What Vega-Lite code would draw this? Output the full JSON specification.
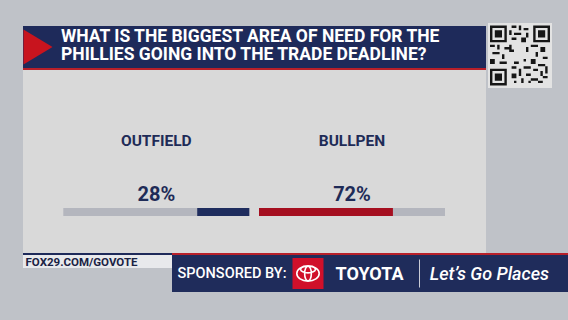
{
  "$schema": "https://vega.github.io/schema/vega-lite/v6.json",
  "padding": {"left": 23, "top": 23, "right": 0, "bottom": 28},
  "background": "#bfc2c8",
  "config": {
    "view": {"stroke": null},
    "concat": {"spacing": 0},
    "font": "Roboto",
    "text": {"font": "Roboto"},
    "title": {"font": "Roboto"}
  },
  "datasets": {
    "poll": [
      {"option": "OUTFIELD", "share": 0.28},
      {"option": "BULLPEN", "share": 0.72}
    ]
  },
  "data": {"name": "poll"},
  "spacing": 0,
  "vconcat": [
    {
      "spacing": 2,
      "hconcat": [
        {
          "spacing": 0,
          "resolve": {"scale": {"x": "independent", "color": "independent"}},
          "vconcat": [
            {"width": 463, "height": 3, "data": {"values": []}, "mark": "point", "encoding": {}},
            {
              "spacing": 0,
              "hconcat": [
                {
                  "width": 30, "height": 42,
                  "view": {"fill": "#1e2a5a"},
                  "data": {"values": [{}]},
                  "mark": {"type": "point", "shape": "M-0.83,-1L0.83,0L-0.83,1Z", "size": 1225, "filled": true, "color": "#c8141e", "opacity": 1, "strokeWidth": 0},
                  "encoding": {}
                },
                {
                  "width": 433, "height": 42,
                  "view": {"fill": "#1e2a5a"},
                  "data": {"values": []},
                  "title": {
                    "text": ["WHAT IS THE BIGGEST AREA OF NEED FOR THE", "PHILLIES GOING INTO THE TRADE DEADLINE?"],
                    "anchor": "start", "orient": "top", "offset": -37.7, "dx": 8,
                    "color": "#ffffff", "fontSize": 17.5, "fontWeight": "bold", "lineHeight": 18.3, "font": "Roboto"
                  },
                  "mark": "point",
                  "encoding": {}
                }
              ]
            },
            {"width": 463, "height": 2, "view": {"fill": "#b8202a"}, "data": {"values": []}, "mark": "point", "encoding": {}},
            {
              "spacing": 0,
              "resolve": {"scale": {"x": "independent", "color": "independent"}},
              "hconcat": [
                {
                  "spacing": 0,
                  "transform": [{"filter": "datum.option === 'OUTFIELD'"}],
                  "vconcat": [
                    {
                      "width": 231, "height": 138,
                      "view": {"fill": "#d9d9d9"},
                      "layer": [
                        {
                          "mark": {"type": "text", "fontSize": 15.5, "fontWeight": "bold", "color": "#1e2b57", "dy": 2.3},
                          "encoding": {
                            "x": {"datum": 0.5, "type": "quantitative", "scale": {"domain": [0, 1], "range": [226.3, 40.3]}, "axis": null},
                            "text": {"field": "option", "type": "nominal"}
                          }
                        },
                        {
                          "mark": {"type": "text", "fontSize": 20, "fontWeight": "bold", "color": "#1e2b57", "dy": 56},
                          "encoding": {
                            "x": {"datum": 0.5, "type": "quantitative", "scale": {"domain": [0, 1], "range": [226.3, 40.3]}, "axis": null},
                            "text": {"field": "share", "type": "quantitative", "format": ".0%"}
                          }
                        }
                      ]
                    },
                    {
                      "width": 231, "height": 8,
                      "view": {"fill": "#d9d9d9"},
                      "layer": [
                        {
                          "mark": {"type": "bar", "height": 8, "color": "#b4b6be"},
                          "encoding": {"x": {"datum": 1, "type": "quantitative", "scale": {"domain": [0, 1], "range": [226.3, 40.3]}, "axis": null}}
                        },
                        {
                          "mark": {"type": "bar", "height": 8},
                          "encoding": {
                            "x": {"field": "share", "type": "quantitative", "scale": {"domain": [0, 1], "range": [226.3, 40.3]}, "axis": null},
                            "color": {"field": "option", "type": "nominal", "scale": {"domain": ["OUTFIELD", "BULLPEN"], "range": ["#1f2d5e", "#a50f20"]}, "legend": null}
                          }
                        }
                      ]
                    },
                    {"width": 231, "height": 37, "view": {"fill": "#d9d9d9"}, "data": {"values": []}, "mark": "point", "encoding": {}}
                  ]
                },
                {
                  "spacing": 0,
                  "transform": [{"filter": "datum.option === 'BULLPEN'"}],
                  "vconcat": [
                    {
                      "width": 232, "height": 138,
                      "view": {"fill": "#d9d9d9"},
                      "layer": [
                        {
                          "mark": {"type": "text", "fontSize": 15.5, "fontWeight": "bold", "color": "#1e2b57", "dy": 2.3},
                          "encoding": {
                            "x": {"datum": 0.5, "type": "quantitative", "scale": {"domain": [0, 1], "range": [5, 191]}, "axis": null},
                            "text": {"field": "option", "type": "nominal"}
                          }
                        },
                        {
                          "mark": {"type": "text", "fontSize": 20, "fontWeight": "bold", "color": "#1e2b57", "dy": 56},
                          "encoding": {
                            "x": {"datum": 0.5, "type": "quantitative", "scale": {"domain": [0, 1], "range": [5, 191]}, "axis": null},
                            "text": {"field": "share", "type": "quantitative", "format": ".0%"}
                          }
                        }
                      ]
                    },
                    {
                      "width": 232, "height": 8,
                      "view": {"fill": "#d9d9d9"},
                      "layer": [
                        {
                          "mark": {"type": "bar", "height": 8, "color": "#b4b6be"},
                          "encoding": {"x": {"datum": 1, "type": "quantitative", "scale": {"domain": [0, 1], "range": [5, 191]}, "axis": null}}
                        },
                        {
                          "mark": {"type": "bar", "height": 8},
                          "encoding": {
                            "x": {"field": "share", "type": "quantitative", "scale": {"domain": [0, 1], "range": [5, 191]}, "axis": null},
                            "color": {"field": "option", "type": "nominal", "scale": {"domain": ["OUTFIELD", "BULLPEN"], "range": ["#1f2d5e", "#a50f20"]}, "legend": null}
                          }
                        }
                      ]
                    },
                    {"width": 232, "height": 37, "view": {"fill": "#d9d9d9"}, "data": {"values": []}, "mark": "point", "encoding": {}}
                  ]
                }
              ]
            }
          ]
        },
        {
          "width": 64, "height": 65,
          "view": {"fill": "#e3e3e3"},
          "data": {"values": [{}]},
          "mark": {
            "type": "point",
            "shape": "M-12.5,-12.5h7v7h-7Z M-11.5,-11.5v5h5v-5Z M-10.5,-10.5h3v3h-3Z M5.5,-12.5h7v7h-7Z M6.5,-11.5v5h5v-5Z M7.5,-10.5h3v3h-3Z M-12.5,5.5h7v7h-7Z M-11.5,6.5v5h5v-5Z M-10.5,7.5h3v3h-3Z M-3.5,-12.5h2v1h-2Z M-0.5,-12.5h1v2h-1Z M1.5,-11.5h2v1h-2Z M-4.5,-10.5h1v2h-1Z M-2.5,-9.5h3v1h-3Z M2.5,-9.5h1v2h-1Z M-3.5,-7.5h2v1h-2Z M0.5,-7.5h2v2h-2Z M-12.5,-4.5h2v1h-2Z M-9.5,-4.5h1v2h-1Z M-6.5,-3.5h2v1h-2Z M-11.5,-1.5h3v1h-3Z M-7.5,-0.5h1v2h-1Z M-12.5,1.5h2v2h-2Z M-8.5,2.5h3v1h-3Z M-4.5,-4.5h1v3h-1Z M4.5,-4.5h3v1h-3Z M8.5,-3.5h2v2h-2Z M6.5,-1.5h1v2h-1Z M9.5,0.5h2v1h-2Z M4.5,1.5h2v2h-2Z M7.5,3.5h3v1h-3Z M-3.5,4.5h2v1h-2Z M-0.5,5.5h1v3h-1Z M1.5,4.5h3v1h-3Z M5.5,5.5h2v1h-2Z M8.5,6.5h1v2h-1Z M10.5,4.5h1v3h-1Z M-3.5,7.5h2v2h-2Z M2.5,7.5h2v1h-2Z M4.5,9.5h3v1h-3Z M7.5,10.5h2v1h-2Z M-2.5,10.5h1v1h-1Z M0.5,9.5h1v2h-1Z M9.5,8.5h2v1h-2Z M3.5,10.5h1v1h-1Z M-3.5,-2.5h1v1h-1Z M2.5,-3.5h1v2h-1Z M-2.5,2.5h2v1h-2Z M1.5,1.5h1v1h-1Z",
            "size": 23.04, "filled": true, "color": "#161616", "opacity": 1, "strokeWidth": 0
          },
          "encoding": {}
        }
      ]
    },
    {
      "spacing": 0,
      "vconcat": [
        {
          "spacing": 0,
          "hconcat": [
            {"width": 149, "height": 2, "view": {"fill": "#1e2a5a"}, "data": {"values": []}, "mark": "point", "encoding": {}},
            {"width": 396, "height": 2, "view": {"fill": "#b8202a"}, "data": {"values": []}, "mark": "point", "encoding": {}}
          ]
        },
        {
          "spacing": 0,
          "hconcat": [
            {
              "width": 149, "height": 13,
              "view": {"fill": "#e8e9ec"},
              "data": {"values": [{}]},
              "mark": {"type": "text", "text": "FOX29.COM/GOVOTE", "fontSize": 11.5, "fontWeight": "bold", "color": "#1a2244", "dx": -16, "dy": 1.5},
              "encoding": {}
            },
            {
              "width": 120, "height": 37,
              "view": {"fill": "#1f2c5b"},
              "data": {"values": [{}]},
              "mark": {"type": "text", "text": "SPONSORED BY:", "fontSize": 14.5, "fontWeight": 500, "color": "#ffffff"},
              "encoding": {}
            },
            {
              "width": 32, "height": 37,
              "view": {"fill": "#1f2c5b"},
              "data": {"values": [{}]},
              "layer": [
                {"mark": {"type": "point", "shape": "square", "size": 961, "filled": true, "color": "#d0102a", "opacity": 1, "strokeWidth": 0}, "encoding": {}},
                {"mark": {"type": "point", "shape": "M-1,0A1,0.68,0,1,0,1,0A1,0.68,0,1,0,-1,0Z M-0.3,0A0.3,0.66,0,1,0,0.3,0A0.3,0.66,0,1,0,-0.3,0Z M-0.66,-0.36A0.66,0.3,0,1,0,0.66,-0.36A0.66,0.3,0,1,0,-0.66,-0.36Z", "size": 502, "filled": false, "color": "#ffffff", "strokeWidth": 1.6, "opacity": 1}, "encoding": {}}
              ]
            },
            {
              "width": 91, "height": 37,
              "view": {"fill": "#1f2c5b"},
              "data": {"values": [{}]},
              "mark": {"type": "text", "text": "TOYOTA", "fontSize": 18, "fontWeight": "bold", "letterSpacing": 1.5, "color": "#ffffff", "dy": 1},
              "encoding": {}
            },
            {
              "width": 9, "height": 37,
              "view": {"fill": "#1f2c5b"},
              "data": {"values": [{}]},
              "mark": {"type": "point", "shape": "M0,-1L0,1", "size": 784, "filled": false, "color": "#c9cbd6", "strokeWidth": 1, "opacity": 1},
              "encoding": {}
            },
            {
              "width": 144, "height": 37,
              "view": {"fill": "#1f2c5b"},
              "data": {"values": [{}]},
              "mark": {"type": "text", "text": "Let’s Go Places", "fontSize": 18, "fontStyle": "italic", "fontWeight": 500, "color": "#ffffff", "dx": -6.6, "dy": 1},
              "encoding": {}
            }
          ]
        }
      ]
    }
  ]
}
